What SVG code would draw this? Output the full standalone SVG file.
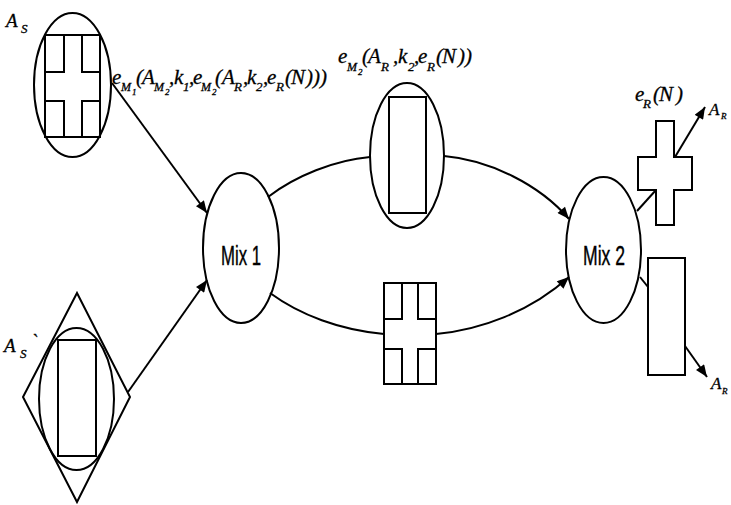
<svg xmlns="http://www.w3.org/2000/svg" width="731" height="505" viewBox="0 0 731 505">
<defs>
<style>
.s{fill:none;stroke:#000;stroke-width:2}
.t{font-family:"Liberation Serif",serif;font-style:italic;fill:#000;stroke:#000;stroke-width:0.3}
.b{font-size:21px}
.u{font-size:13px}
.w{font-size:12px}
.v{font-size:9px}
.m{font-family:"Liberation Sans",sans-serif;fill:#000;stroke:#000;stroke-width:0.4}
.c{fill:none;stroke:#000;stroke-width:2}
</style>
<marker id="ah" viewBox="0 0 12 10" refX="12" refY="5" markerWidth="13" markerHeight="10" markerUnits="userSpaceOnUse" orient="auto">
<path d="M0,0 L12,5 L0,10 Z" fill="#000"/>
</marker>
</defs>
<rect width="731" height="505" fill="#fff"/>

<g id="connectors">
<path class="c" d="M112,83 L207,213" marker-end="url(#ah)"/>
<path class="c" d="M128,392 L207,280" marker-end="url(#ah)"/>
<path class="c" d="M268,197 C295,176 335,160 370,157"/>
<path class="c" d="M444,156 C490,160 540,185 569,219" marker-end="url(#ah)"/>
<path class="c" d="M270,293 C300,315 340,330 384,334"/>
<path class="c" d="M436,334 C480,330 530,312 569,277" marker-end="url(#ah)"/>
<path class="c" d="M637,211 L656,190"/>
<path class="c" d="M640,277 L648,287"/>
<path class="c" d="M675,157 L705,107" marker-end="url(#ah)"/>
<path class="c" d="M685,346 L707,377" marker-end="url(#ah)"/>
</g>

<g id="source-as">
<ellipse class="s" cx="72.5" cy="85" rx="38.5" ry="72"/>
<rect class="s" x="45" y="35" width="55" height="102"/>
<path class="s" d="M45,72 H64 V35 M82,35 V72 H100 M45,101 H64 V137 M82,137 V101 H100"/>
<text class="t" font-size="19"><tspan x="6" y="27">A</tspan><tspan class="u" x="21" y="33">S</tspan></text>
</g>

<g id="source-as2">
<path class="s" d="M77,293 L130,397 L77,502 L23,397 Z"/>
<ellipse class="s" cx="76.5" cy="399" rx="37.5" ry="71"/>
<rect class="s" x="58" y="340" width="38" height="116"/>
<text class="t" font-size="19"><tspan x="4" y="352">A</tspan><tspan class="u" x="20" y="358">S</tspan><tspan x="31" y="347">`</tspan></text>
</g>

<g id="label-outer">
<text class="t b"><tspan x="112" y="84">e</tspan><tspan class="w" x="121" y="91">M</tspan><tspan class="v" x="132" y="95">1</tspan><tspan x="136" y="84">(</tspan><tspan x="142" y="84">A</tspan><tspan class="w" x="154" y="91">M</tspan><tspan class="v" x="165" y="95">2</tspan><tspan x="169" y="84">,</tspan><tspan x="174" y="84">k</tspan><tspan class="u" x="183" y="91">1</tspan><tspan x="189" y="84">,</tspan><tspan x="193" y="84">e</tspan><tspan class="w" x="201" y="91">M</tspan><tspan class="v" x="212" y="95">2</tspan><tspan x="215" y="84">(</tspan><tspan x="222" y="84">A</tspan><tspan class="u" x="234" y="91">R</tspan><tspan x="243" y="84">,</tspan><tspan x="247" y="84">k</tspan><tspan class="u" x="256" y="91">2</tspan><tspan x="263" y="84">,</tspan><tspan x="267" y="84">e</tspan><tspan class="u" x="276" y="91">R</tspan><tspan x="285" y="84">(</tspan><tspan x="291" y="84">N</tspan><tspan x="306" y="84">)))</tspan></text>
</g>

<g id="mix1">
<ellipse class="s" cx="241" cy="248" rx="38" ry="75"/>
<text class="m" x="221" y="265" font-size="27" textLength="40" lengthAdjust="spacingAndGlyphs">Mix 1</text>
</g>

<g id="mid-top">
<ellipse class="s" cx="407" cy="155.5" rx="37" ry="72.5"/>
<rect class="s" x="389" y="97" width="37" height="116"/>
<text class="t b"><tspan x="338" y="63">e</tspan><tspan class="w" x="347" y="71">M</tspan><tspan class="v" x="358" y="75">2</tspan><tspan x="362" y="63">(</tspan><tspan x="368" y="63">A</tspan><tspan class="u" x="381" y="71">R</tspan><tspan x="393" y="63">,</tspan><tspan x="398" y="63">k</tspan><tspan class="u" x="408" y="71">2</tspan><tspan x="414" y="63">,</tspan><tspan x="418" y="63">e</tspan><tspan class="u" x="427" y="71">R</tspan><tspan x="436" y="63">(</tspan><tspan x="442" y="63">N</tspan><tspan x="458" y="63">))</tspan></text>
</g>

<g id="mid-bottom">
<rect class="s" x="384" y="283" width="52" height="101"/>
<path class="s" d="M384,319 H402 V283 M418,283 V319 H436 M384,349 H402 V384 M418,384 V349 H436"/>
</g>

<g id="mix2">
<ellipse class="s" cx="603.5" cy="250" rx="37.5" ry="73"/>
<text class="m" x="583" y="265" font-size="27" textLength="42" lengthAdjust="spacingAndGlyphs">Mix 2</text>
</g>

<g id="out-cross">
<path class="s" d="M656,121 H674 V157 H692 V190 H674 V225 H656 V190 H638 V157 H656 Z"/>
<text class="t b"><tspan x="635" y="101">e</tspan><tspan class="u" x="643" y="108">R</tspan><tspan x="653" y="101">(</tspan><tspan x="659" y="101">N</tspan><tspan x="676" y="101">)</tspan></text>
<text class="t" font-size="17"><tspan x="709" y="115">A</tspan><tspan class="v" x="721" y="119">R</tspan></text>
</g>

<g id="out-rect">
<rect class="s" x="648" y="258" width="37" height="117"/>
<text class="t" font-size="17"><tspan x="711" y="389">A</tspan><tspan class="v" x="722" y="394">R</tspan></text>
</g>
</svg>
